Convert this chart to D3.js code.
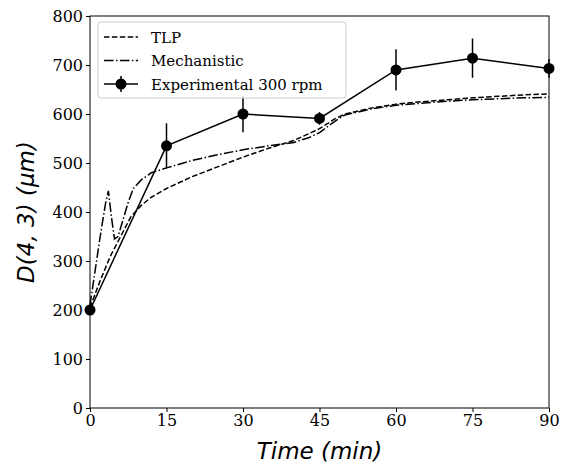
<!DOCTYPE html>
<html>
<head>
<meta charset="utf-8">
<script src="https://cdn.jsdelivr.net/npm/d3@7"></script>
<style>
  body { margin: 0; background: #fff; }
  svg text { fill: #000; }
</style>
</head>
<body>
<svg id="chart" width="570" height="466"></svg>
<script>
// Experimental 300 rpm
const expTime = [0, 15, 30, 45, 60, 75, 90];
const expValue = [200, 535, 600, 591, 690, 714, 693];
const expErr = [0, 46, 37, 13, 42, 40, 19];

// TLP model
const tlpTime = [0, 2, 4, 6, 8, 10, 12, 15, 20, 25, 30, 35, 40, 45, 48, 50, 55, 60, 65, 70, 75, 80, 85, 90];
const tlpValue = [205, 260, 310, 350, 390, 413, 430, 448, 472, 492, 512, 530, 546, 570, 590, 600, 612, 620, 625, 629, 633, 636, 639, 641];

// Mechanistic model
const mechTime = [0, 1, 2, 3, 3.6, 4.2, 4.8, 5.5, 6.5, 7.5, 8.5, 10, 12, 15, 20, 25, 30, 35, 40, 43, 45, 48, 50, 55, 60, 65, 70, 75, 80, 85, 90];
const mechValue = [210, 280, 350, 415, 443, 390, 345, 350, 385, 420, 448, 465, 480, 490, 505, 517, 527, 535, 542, 552, 562, 585, 598, 610, 618, 622, 626, 629, 631, 633, 634];

const xTicks = [0, 15, 30, 45, 60, 75, 90];
const yTicks = [0, 100, 200, 300, 400, 500, 600, 700, 800];

const svg = d3.select("#chart");
const margin = { top: 16, right: 21, bottom: 58, left: 90 };
const width = 570 - margin.left - margin.right;
const height = 466 - margin.top - margin.bottom;

const g = svg.append("g")
  .attr("transform", `translate(${margin.left},${margin.top})`);

const x = d3.scaleLinear().domain([0, 90]).range([0, width]);
const y = d3.scaleLinear().domain([0, 800]).range([height, 0]);

const tickFont = "'DejaVu Serif', serif";

// axes
const xAxis = g.append("g")
  .attr("transform", `translate(0,${height})`)
  .call(d3.axisBottom(x).tickValues(xTicks).tickSize(4).tickPadding(3));
const yAxis = g.append("g")
  .call(d3.axisLeft(y).tickValues(yTicks).tickSize(4).tickPadding(3));

[xAxis, yAxis].forEach(a => {
  a.selectAll("text").attr("font-family", tickFont).attr("font-size", 16).attr("fill", "#000");
  a.selectAll("line").attr("stroke", "#000");
  a.select(".domain").remove();
});

// frame
g.append("rect")
  .attr("width", width).attr("height", height)
  .attr("fill", "none").attr("stroke", "#000").attr("stroke-width", 1);

const line = d3.line().x(d => x(d[0])).y(d => y(d[1]));

g.append("path")
  .datum(d3.zip(tlpTime, tlpValue))
  .attr("d", line)
  .attr("fill", "none").attr("stroke", "#000").attr("stroke-width", 1.5)
  .attr("stroke-dasharray", "5.5,2.4");

g.append("path")
  .datum(d3.zip(mechTime, mechValue))
  .attr("d", line)
  .attr("fill", "none").attr("stroke", "#000").attr("stroke-width", 1.5)
  .attr("stroke-dasharray", "9.6,2.4,1.5,2.4");

const expData = expTime.map((t, i) => ({ t, v: expValue[i], e: expErr[i] }));

g.append("path")
  .datum(expData.map(d => [d.t, d.v]))
  .attr("d", line)
  .attr("fill", "none").attr("stroke", "#000").attr("stroke-width", 1.5);

g.selectAll(".err")
  .data(expData.filter(d => d.e > 0))
  .enter().append("line")
  .attr("x1", d => x(d.t)).attr("x2", d => x(d.t))
  .attr("y1", d => y(d.v - d.e)).attr("y2", d => y(d.v + d.e))
  .attr("stroke", "#000").attr("stroke-width", 1.5);

// clip markers to the axes area like matplotlib does not; draw them fully
g.selectAll(".pt")
  .data(expData)
  .enter().append("circle")
  .attr("cx", d => x(d.t)).attr("cy", d => y(d.v))
  .attr("r", 5.5).attr("fill", "#000");

// axis labels
svg.append("text")
  .attr("x", margin.left + width / 2).attr("y", 459)
  .attr("text-anchor", "middle")
  .attr("font-family", "'DejaVu Sans', sans-serif")
  .attr("font-size", 23)
  .attr("font-style", "italic")
  .text("Time (min)");

svg.append("text")
  .attr("transform", `translate(34,${margin.top + height / 2}) rotate(-90)`)
  .attr("text-anchor", "middle")
  .attr("font-family", "'DejaVu Sans', sans-serif")
  .attr("font-size", 23)
  .attr("font-style", "italic")
  .text("D(4, 3) (μm)");

// legend
const legend = g.append("g").attr("transform", "translate(8,6)");
legend.append("rect")
  .attr("width", 248).attr("height", 76)
  .attr("rx", 3)
  .attr("fill", "#fff").attr("fill-opacity", 0.8)
  .attr("stroke", "#ccc").attr("stroke-width", 1);

const legendItems = [
  { label: "TLP", dash: "5.5,2.4", marker: false },
  { label: "Mechanistic", dash: "9.6,2.4,1.5,2.4", marker: false },
  { label: "Experimental 300 rpm", dash: null, marker: true }
];

legendItems.forEach((item, i) => {
  const yy = 15 + i * 23.5;
  const row = legend.append("g").attr("transform", `translate(0,${yy})`);
  row.append("line")
    .attr("x1", 6).attr("x2", 40)
    .attr("stroke", "#000").attr("stroke-width", 1.5)
    .attr("stroke-dasharray", item.dash);
  if (item.marker) {
    row.append("line").attr("x1", 23).attr("x2", 23).attr("y1", -8).attr("y2", 8)
      .attr("stroke", "#000").attr("stroke-width", 1.5);
    row.append("circle").attr("cx", 23).attr("r", 5.5).attr("fill", "#000");
  }
  row.append("text")
    .attr("x", 53).attr("y", 5.5)
    .attr("font-family", tickFont).attr("font-size", 15)
    .text(item.label);
});
</script>
</body>
</html>
